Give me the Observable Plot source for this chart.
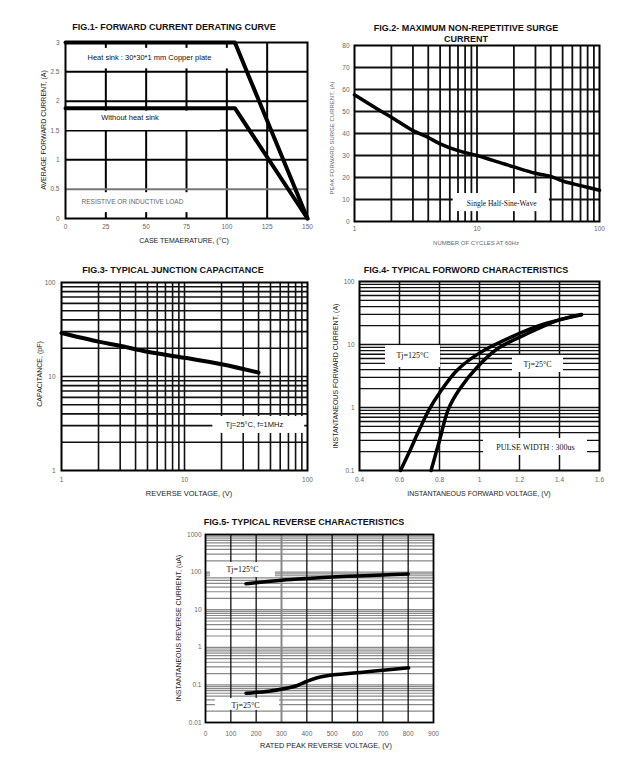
<!DOCTYPE html>
<html><head><meta charset="utf-8">
<script src="https://cdn.jsdelivr.net/npm/d3@7"></script>
<script src="https://cdn.jsdelivr.net/npm/@observablehq/plot@0.6"></script>
<style>
body{margin:0;background:#fff;}
#c{position:relative;width:628px;height:765px;overflow:hidden;font-family:"Liberation Sans",Arial,sans-serif;background:#fff;}
.t{position:absolute;font-weight:bold;font-size:9px;white-space:nowrap;transform:translate(-50%,-50%);color:#111;}
.xl{position:absolute;font-size:7px;white-space:nowrap;transform:translate(-50%,-50%);color:#222;}
.yl{position:absolute;font-size:7px;white-space:nowrap;transform:translate(-50%,-50%) rotate(-90deg);color:#222;}
</style></head><body><div id="c"></div><script>
// ---------- DATA ----------
// Fig.1 derating
const f1X = [0, 105, 150];
const f1Heat = [3, 3, 0];
const f1NoHeat = [1.88, 1.88, 0];
const f1XTicks = [0, 25, 50, 75, 100, 125, 150];
const f1YTicks = [0, 0.5, 1, 1.5, 2, 2.5, 3];
const f1XGrid = [25, 50, 75, 100, 125];
const f1YGrid = [1, 1.5, 2, 2.5];
const f1YGridGray = [0.5];
// Fig.2 surge
const f2X = [1, 1.5, 2, 3, 4, 5, 7, 10, 15, 20, 30, 40, 50, 70, 100];
const f2Y = [57.6, 51.5, 47.4, 41.3, 38.2, 35.3, 32.2, 30, 27, 24.8, 21.9, 20.5, 18.4, 16.3, 14.2];
const f2XTicks = [1, 10, 100];
const f2YTicks = [0, 10, 20, 30, 40, 50, 60, 70, 80];
const logMinor = [2, 3, 4, 5, 6, 7, 8, 9, 20, 30, 40, 50, 60, 70, 80, 90];
const f2YGrid = [10, 20, 30, 40, 50, 60, 70];
// Fig.3 capacitance
const f3X = [1, 2, 3, 5, 10, 20, 40];
const f3Y = [29, 23.5, 21.2, 18.3, 15.8, 13.5, 11];
const f3Ticks = [1, 10, 100];
// Fig.4 forward
const f4X125 = [0.605, 0.65, 0.7, 0.75, 0.8, 0.888, 1.005, 1.155, 1.32, 1.51];
const f4Y125 = [0.1, 0.2, 0.45, 0.95, 1.7, 3.9, 7.5, 13, 21, 29.5];
const f4X25 = [0.758, 0.8, 0.845, 0.9, 0.995, 1.088, 1.238, 1.388, 1.51];
const f4Y25 = [0.1, 0.3, 0.95, 1.95, 4.6, 8.5, 14.8, 24, 30];
const f4XTicks = [0.4, 0.6, 0.8, 1, 1.2, 1.4, 1.6];
const f4XGrid = [0.6, 0.8, 1.0, 1.2, 1.4];
const f4YTicks = [0.1, 1, 10, 100];
const f4YGrid = [0.2,0.3,0.4,0.5,0.6,0.7,0.8,0.9,1,2,3,4,5,6,7,8,9,10,20,30,40,50,60,70,80,90];
// Fig.5 reverse
const f5X125 = [160, 300, 400, 500, 600, 700, 800];
const f5Y125 = [49, 61, 68, 74, 79, 84, 89];
const f5X25 = [160, 250, 309, 360, 401, 441, 506, 612, 700, 802];
const f5Y25 = [0.06, 0.068, 0.079, 0.095, 0.125, 0.155, 0.185, 0.215, 0.245, 0.285];
const f5XTicks = [0, 100, 200, 300, 400, 500, 600, 700, 800, 900];
const f5XGrid = [100, 200, 400, 500, 600, 700, 800];
const f5XGridGray = [300];
const f5YTicks = [0.01, 0.1, 1, 10, 100, 1000];
const f5YGrid = [0.02,0.03,0.04,0.05,0.06,0.07,0.08,0.09,0.1,0.2,0.3,0.4,0.5,0.6,0.7,0.8,0.9,1,2,3,4,5,6,7,8,9,10,20,30,40,50,60,70,80,90,100,200,300,400,500,600,700,800,900];

// annotation labels (data units) with white backing boxes
const f1Notes = [
  {text: "Heat sink : 30*30*1 mm Copper plate", x: 52, y: 2.74, x1: 0.5, x2: 108, y1: 2.55, y2: 2.9},
  {text: "Without heat sink", x: 40, y: 1.72, x1: 0.5, x2: 96, y1: 1.5, y2: 1.83}
];
const f1Notes2 = [
  {text: "RESISTIVE OR INDUCTIVE LOAD", x: 41.5, y: 0.29, x1: 0.5, x2: 90, y1: 0.1, y2: 0.44}
];
const f2Notes = [{text: "Single Half-Sine-Wave", x: 15.9, y: 8.2, x1: 6.4, x2: 39, y1: 4.5, y2: 12.7}];
const f3Notes = [{text: "Tj=25°C, f=1MHz", x: 37, y: 3.08, x1: 17, x2: 95, y1: 2.48, y2: 3.75}];
const f4Notes = [
  {text: "Tj=125°C", x: 0.665, y: 6.7, x1: 0.53, x2: 0.805, y1: 4.3, y2: 9.6},
  {text: "Tj=25°C", x: 1.29, y: 4.8, x1: 1.165, x2: 1.42, y1: 3.6, y2: 6.7},
  {text: "PULSE WIDTH : 300us", x: 1.28, y: 0.234, x1: 1.02, x2: 1.54, y1: 0.173, y2: 0.322}
];
const f5Notes = [
  {text: "Tj=125°C", x: 146, y: 117, x1: 20, x2: 276, y1: 72, y2: 180},
  {text: "Tj=25°C", x: 158, y: 0.0283, x1: 39, x2: 292, y1: 0.021, y2: 0.0434}
];

// ---------- DRAW ----------
const C = document.getElementById("c");
const zip = (xs, ys) => xs.map((x, i) => ({x, y: ys[i]}));
const sans = "Liberation Sans, Arial, sans-serif";
const serif = "Liberation Serif, Times New Roman, serif";

function panel(f, o) {
  const ml = 45, mr = 12, mt = 6, mb = 22;
  const svg = Plot.plot({
    width: f.r - f.l + ml + mr, height: f.b - f.t + mt + mb,
    marginLeft: ml, marginRight: mr, marginTop: mt, marginBottom: mb,
    style: {background: "transparent", fontFamily: sans, overflow: "visible"},
    x: o.x, y: o.y,
    marks: [
      ...o.marks,
      Plot.axisX({ticks: o.xTicks, tickFormat: d => String(d), tickSize: 0, tickPadding: o.xPad, fontSize: 6.5, fill: "#666", label: null}),
      Plot.axisY({ticks: o.yTicks, tickFormat: d => String(d), tickSize: 0, tickPadding: o.yPad, fontSize: 6.5, fill: "#666", label: null})
    ]
  });
  svg.style.position = "absolute";
  svg.style.left = (f.l - ml) + "px";
  svg.style.top = (f.t - mt) + "px";
  svg.style.maxWidth = "none";
  C.appendChild(svg);
}
function html(cls, text, x, y, extra) {
  const d = document.createElement("div");
  d.className = cls; d.textContent = text;
  d.style.left = x + "px"; d.style.top = y + "px";
  if (extra) Object.assign(d.style, extra);
  C.appendChild(d);
}
const boxes = (notes) => Plot.rect(notes, {x1: "x1", x2: "x2", y1: "y1", y2: "y2", fill: "white"});

// Fig 1
panel({l: 65, r: 307, t: 42, b: 218}, {
  x: {domain: [0, 150]}, y: {domain: [0, 3]},
  xTicks: f1XTicks, yTicks: f1YTicks, xPad: 6, yPad: 6,
  marks: [
    Plot.ruleX(f1XGrid, {stroke: "#000", strokeWidth: 2}),
    Plot.ruleY(f1YGrid, {stroke: "#000", strokeWidth: 2}),
    Plot.ruleY(f1YGridGray, {stroke: "#777", strokeWidth: 2}),
    boxes(f1Notes), boxes(f1Notes2),
    Plot.frame({stroke: "#000", strokeWidth: 2}),
    Plot.line(zip(f1X, f1Heat), {x: "x", y: "y", stroke: "#000", strokeWidth: 4}),
    Plot.line(zip(f1X, f1NoHeat), {x: "x", y: "y", stroke: "#000", strokeWidth: 4}),
    Plot.text(f1Notes, {x: "x", y: "y", text: "text", fill: "#111", fontSize: 7.5}),
    Plot.text(f1Notes2, {x: "x", y: "y", text: "text", fill: "#666", fontSize: 6.5})
  ]
});
// Fig 2
panel({l: 354, r: 599, t: 45, b: 221}, {
  x: {type: "log", domain: [1, 100]}, y: {domain: [0, 80]},
  xTicks: f2XTicks, yTicks: f2YTicks, xPad: 5, yPad: 5,
  marks: [
    Plot.ruleX(logMinor.concat([10]), {stroke: "#111", strokeWidth: 1.8}),
    Plot.ruleY(f2YGrid, {stroke: "#111", strokeWidth: 1.8}),
    boxes(f2Notes),
    Plot.frame({stroke: "#000", strokeWidth: 2}),
    Plot.line(zip(f2X, f2Y), {x: "x", y: "y", stroke: "#000", strokeWidth: 3.5, curve: "catmull-rom"}),
    Plot.text(f2Notes, {x: "x", y: "y", text: "text", fontFamily: serif, fontSize: 7.5, fill: "#111"})
  ]
});
// Fig 3
panel({l: 61, r: 307, t: 282, b: 470}, {
  x: {type: "log", domain: [1, 100]}, y: {type: "log", domain: [1, 100]},
  xTicks: f3Ticks, yTicks: f3Ticks, xPad: 6.5, yPad: 6,
  marks: [
    Plot.ruleX(logMinor.concat([10]), {stroke: "#111", strokeWidth: 1.6}),
    Plot.ruleY(logMinor.concat([10]), {stroke: "#111", strokeWidth: 1.6}),
    boxes(f3Notes),
    Plot.frame({stroke: "#000", strokeWidth: 2}),
    Plot.line(zip(f3X, f3Y), {x: "x", y: "y", stroke: "#000", strokeWidth: 4, curve: "catmull-rom"}),
    Plot.text(f3Notes, {x: "x", y: "y", text: "text", fontSize: 7.5, fill: "#111"})
  ]
});
// Fig 4
panel({l: 359, r: 599, t: 281, b: 470}, {
  x: {domain: [0.4, 1.6]}, y: {type: "log", domain: [0.1, 100]},
  xTicks: f4XTicks, yTicks: f4YTicks, xPad: 6.5, yPad: 5,
  marks: [
    Plot.ruleX(f4XGrid, {stroke: "#111", strokeWidth: 1.5}),
    Plot.ruleY(f4YGrid, {stroke: "#111", strokeWidth: 1.3}),
    boxes(f4Notes),
    Plot.frame({stroke: "#000", strokeWidth: 2}),
    Plot.line(zip(f4X125, f4Y125), {x: "x", y: "y", stroke: "#000", strokeWidth: 3.5, curve: "catmull-rom"}),
    Plot.line(zip(f4X25, f4Y25), {x: "x", y: "y", stroke: "#000", strokeWidth: 3.5, curve: "catmull-rom"}),
    Plot.text(f4Notes, {x: "x", y: "y", text: "text", fontFamily: serif, fontSize: 8, fill: "#111"})
  ]
});
// Fig 5
panel({l: 205, r: 433, t: 534, b: 722}, {
  x: {domain: [0, 900]}, y: {type: "log", domain: [0.01, 1000]},
  xTicks: f5XTicks, yTicks: f5YTicks, xPad: 9, yPad: 4,
  marks: [
    Plot.ruleY(f5YGrid, {stroke: "#888", strokeWidth: 1.2}),
    Plot.ruleX(f5XGrid, {stroke: "#111", strokeWidth: 1.3}),
    Plot.ruleX(f5XGridGray, {stroke: "#888", strokeWidth: 2}),
    boxes(f5Notes),
    Plot.frame({stroke: "#000", strokeWidth: 1.8}),
    Plot.line(zip(f5X125, f5Y125), {x: "x", y: "y", stroke: "#000", strokeWidth: 3.5, curve: "catmull-rom"}),
    Plot.line(zip(f5X25, f5Y25), {x: "x", y: "y", stroke: "#000", strokeWidth: 3.5, curve: "catmull-rom"}),
    Plot.text(f5Notes, {x: "x", y: "y", text: "text", fontFamily: serif, fontSize: 8, fill: "#111"})
  ]
});

// Titles & axis labels
html("t", "FIG.1- FORWARD CURRENT DERATING CURVE", 174, 27);
html("t", "FIG.2- MAXIMUM NON-REPETITIVE SURGE", 466, 28);
html("t", "CURRENT", 466, 39);
html("t", "FIG.3- TYPICAL JUNCTION CAPACITANCE", 173, 270);
html("t", "FIG.4- TYPICAL FORWORD CHARACTERISTICS", 466, 270);
html("t", "FIG.5- TYPICAL REVERSE CHARACTERISTICS", 304, 522);

html("yl", "AVERAGE FORWARD CURRENT, (A)", 43, 130);
html("xl", "CASE TEMAERATURE, (°C)", 184, 240);
html("yl", "PEAK FORWARD SURGE CURRENT, (A)", 332, 138, {fontSize: "6px", color: "#666"});
html("xl", "NUMBER OF CYCLES AT 60Hz", 476, 243, {fontSize: "6px", color: "#666"});
html("yl", "CAPACITANCE, (pF)", 39, 374);
html("xl", "REVERSE VOLTAGE, (V)", 189, 493, {fontSize: "7.5px"});
html("yl", "INSTANTANEOUS FORWARD CURRENT, (A)", 335, 376);
html("xl", "INSTANTANEOUS FORWARD VOLTAGE, (V)", 479, 493);
html("yl", "INSTANTANEOUS REVERSE CURRENT, (uA)", 178, 628);
html("xl", "RATED PEAK REVERSE VOLTAGE, (V)", 326, 745, {fontSize: "7.3px"});
</script></body></html>
